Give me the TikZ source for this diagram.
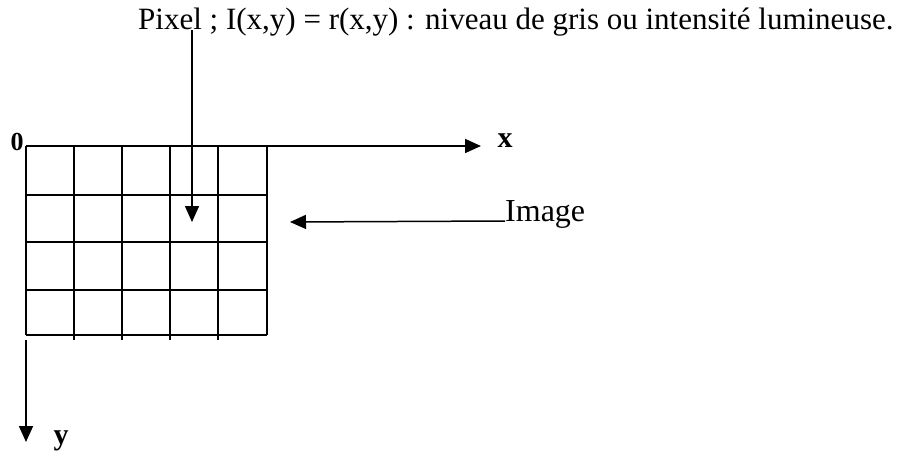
\documentclass[tikz,border=0pt]{standalone}
\usepackage{fontspec}
\setmainfont{Liberation Serif}
\usetikzlibrary{arrows.meta}
\tikzset{
  ax/.style={line width=1.8pt,-{Triangle[length=16pt,width=14pt]}},
  gridline/.style={line width=1.3pt},
  lbl/.style={font=\fontsize{31}{36}\selectfont, inner sep=0pt},
  axlbl/.style={font=\fontsize{30}{34}\selectfont\bfseries, inner sep=0pt}
}
\begin{document}
\begin{tikzpicture}[x=1pt,y=-1pt]
\useasboundingbox (0,0) rectangle (914,452);
% title text
\node[lbl, anchor=base west] (title) at (138,30) {Pixel ; I(x,y) = r(x,y) : niveau de gris ou intensité lumineuse.};
% grid
\foreach \yy in {195,242,290,335} \draw[gridline] (26,\yy) -- (267,\yy);
\foreach \xx in {74,122,170,218} \draw[gridline] (\xx,146) -- (\xx,340);
\draw[gridline] (267,146) -- (267,335);
\draw[gridline] (26,146) -- (26,335);
% axes
\coordinate (o) at (26,146);
\coordinate (xend) at (481,146);
\coordinate (ystart) at (26,340);
\coordinate (yend) at (26,442);
\draw[ax] (o) -- (xend);
\draw[ax] (ystart) -- (yend);
\node[axlbl, font=\fontsize{26}{30}\selectfont\bfseries, anchor=base] (zero) at (17,150) {0};
\node[axlbl, anchor=base] (xl) at (505,147) {x};
\node[axlbl, anchor=base] (yl) at (61,444) {y};
% pixel arrow
\coordinate (pixstart) at (192,30);
\coordinate (pixtip) at (192,222);
\draw[ax, line width=1.5pt] (pixstart) -- (pixtip);
% image label
\node[lbl, font=\fontsize{32}{36}\selectfont, anchor=base west] (img) at (505,221) {Image};
\coordinate (imgtip) at (290,222);
\draw[ax, line width=1.5pt] (img.base west) -- (imgtip);
\end{tikzpicture}
\end{document}
